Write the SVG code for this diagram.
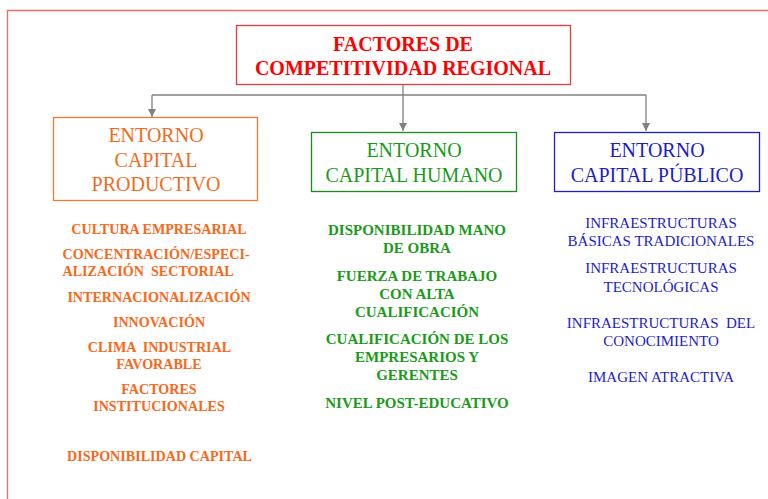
<svg xmlns="http://www.w3.org/2000/svg" width="768" height="499" viewBox="0 0 768 499">
<style>
text{font-family:"Liberation Serif","Times New Roman",serif;text-anchor:middle;white-space:pre}
.title{font-size:20px;font-weight:bold;fill:#ff0000}
.hd{font-size:20px}
.o{fill:#f26b1d}
.g{fill:#1a9a1a}
.b{fill:#1c1cc8}
.io{font-size:14.1px;font-weight:bold;fill:#f8681a}
.ig{font-size:15px;font-weight:bold;fill:#1a9a1a}
.ib{font-size:15px;fill:#1c1cc8}
.conn{stroke:#808080;stroke-width:1.3;fill:none}
</style>
<defs>
<marker id="ah" viewBox="0 0 10 10" refX="10" refY="5" markerWidth="8" markerHeight="8" markerUnits="userSpaceOnUse" orient="auto">
<path d="M0,0 L10,5 L0,10 z" fill="#808080"/>
</marker>
</defs>
<rect width="768" height="499" fill="#ffffff"/>
<path d="M7.5,499 V10.5 H768" fill="none" stroke="#f06868" stroke-width="1.3"/>

<g id="connectors">
<path class="conn" d="M403,84 V95"/>
<path class="conn" d="M152,95 H646"/>
<path class="conn" d="M152,95 V117" marker-end="url(#ah)"/>
<path class="conn" d="M403,95 V131" marker-end="url(#ah)"/>
<path class="conn" d="M646,95 V131" marker-end="url(#ah)"/>
</g>

<g id="title">
<rect x="236.5" y="25.5" width="334" height="59" fill="none" stroke="#e83a3a" stroke-width="1.3"/>
<text class="title" x="403" y="51">FACTORES DE</text>
<text class="title" x="403" y="75">COMPETITIVIDAD REGIONAL</text>
</g>

<g id="entorno-productivo">
<rect x="53.5" y="117.5" width="204" height="83" fill="none" stroke="#f07a30" stroke-width="1.3"/>
<text class="hd o" x="156" y="142">ENTORNO</text>
<text class="hd o" x="156" y="166.5">CAPITAL</text>
<text class="hd o" x="156" y="191">PRODUCTIVO</text>
</g>

<g id="entorno-humano">
<rect x="311.5" y="132.5" width="205" height="59" fill="none" stroke="#1a8a1a" stroke-width="1.3"/>
<text class="hd g" x="414" y="157">ENTORNO</text>
<text class="hd g" x="414" y="182">CAPITAL HUMANO</text>
</g>

<g id="entorno-publico">
<rect x="554.5" y="132.5" width="205" height="59" fill="none" stroke="#2020c0" stroke-width="1.3"/>
<text class="hd b" x="657" y="156.5">ENTORNO</text>
<text class="hd b" x="657" y="182">CAPITAL PÚBLICO</text>
</g>

<g id="items-productivo">
<text class="io" x="159" y="234">CULTURA EMPRESARIAL</text>
<text class="io" x="62.5" y="259" style="text-anchor:start">CONCENTRACIÓN/ESPECI-</text>
<text class="io" x="62.5" y="276" style="text-anchor:start">ALIZACIÓN  SECTORIAL</text>
<text class="io" x="159" y="301.5">INTERNACIONALIZACIÓN</text>
<text class="io" x="159" y="326.5">INNOVACIÓN</text>
<text class="io" x="159.5" y="352">CLIMA  INDUSTRIAL</text>
<text class="io" x="159" y="369">FAVORABLE</text>
<text class="io" x="159" y="394">FACTORES</text>
<text class="io" x="159" y="411">INSTITUCIONALES</text>
<text class="io" x="159.5" y="460.5">DISPONIBILIDAD CAPITAL</text>
</g>

<g id="items-humano">
<text class="ig" x="417" y="235">DISPONIBILIDAD MANO</text>
<text class="ig" x="417" y="253">DE OBRA</text>
<text class="ig" x="417" y="280.5">FUERZA DE TRABAJO</text>
<text class="ig" x="417" y="298.5">CON ALTA</text>
<text class="ig" x="417" y="316.5">CUALIFICACIÓN</text>
<text class="ig" x="417" y="344">CUALIFICACIÓN DE LOS</text>
<text class="ig" x="417" y="362">EMPRESARIOS Y</text>
<text class="ig" x="417" y="380">GERENTES</text>
<text class="ig" x="417" y="408">NIVEL POST-EDUCATIVO</text>
</g>

<g id="items-publico">
<text class="ib" x="661" y="228">INFRAESTRUCTURAS</text>
<text class="ib" x="661" y="246">BÁSICAS TRADICIONALES</text>
<text class="ib" x="661" y="273">INFRAESTRUCTURAS</text>
<text class="ib" x="661" y="291.5">TECNOLÓGICAS</text>
<text class="ib" x="661" y="328">INFRAESTRUCTURAS  DEL</text>
<text class="ib" x="661" y="346">CONOCIMIENTO</text>
<text class="ib" x="661" y="381.5">IMAGEN ATRACTIVA</text>
</g>
</svg>
